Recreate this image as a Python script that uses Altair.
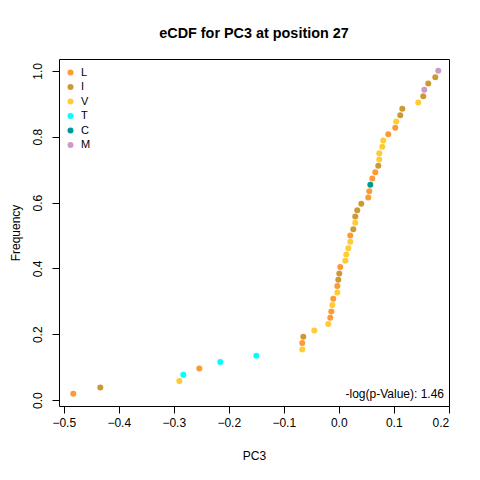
import altair as alt
import pandas as pd

# PC3 values (sorted) and residue at each point
pc3 = [-0.4827, -0.4336, -0.2900, -0.2827, -0.2536, -0.2155, -0.1500,
       -0.0664, -0.0664, -0.0645, -0.0445, -0.0191, -0.0155, -0.0136,
       -0.0118, -0.0100, -0.0027, -0.0027, -0.0009, 0.0009, 0.0027,
       0.0118, 0.0136, 0.0173, 0.0209, 0.0209, 0.0264, 0.0300, 0.0300,
       0.0336, 0.0409, 0.0536, 0.0555, 0.0573, 0.0609, 0.0664, 0.0718,
       0.0736, 0.0736, 0.0791, 0.0809, 0.0900, 0.1027, 0.1045, 0.1118,
       0.1155, 0.1445, 0.1536, 0.1555, 0.1627, 0.1755, 0.1809]
residue = ["L", "I", "V", "T", "L", "T", "T",
           "V", "L", "I", "V", "V", "L", "L",
           "V", "L", "V", "L", "I", "I", "L",
           "V", "V", "V", "V", "L", "I", "V", "I",
           "I", "I", "L", "L", "C", "L", "L", "I",
           "V", "V", "V", "V", "L", "L", "V", "I",
           "I", "V", "I", "M", "I", "I", "M"]

legend_order = ["L", "I", "V", "T", "C", "M"]
legend_colors = ["#FF9933", "#CC9933", "#FFCC33", "#00FFFF", "#009999", "#CC99CC"]

x_ticks = [-0.5, -0.4, -0.3, -0.2, -0.1, 0.0, 0.1, 0.2]
y_ticks = [0.0, 0.2, 0.4, 0.6, 0.8, 1.0]

pval_text = "-log(p-Value): 1.46"
title_text = "eCDF for PC3 at position 27"

n = len(pc3)
df = pd.DataFrame({
    "PC3": pc3,
    "Residue": residue,
    "Frequency": [(i + 1) / n for i in range(n)],
    "order": list(range(n)),
})

FONT = "Liberation Sans"
W, H = 390, 347

points = alt.Chart(df).mark_circle(size=36, opacity=1).encode(
    x=alt.X("PC3:Q",
            scale=alt.Scale(domain=[-0.5087, 0.2004], nice=False, zero=False),
            axis=alt.Axis(values=x_ticks, format=".1f", title="PC3",
                          labelPadding=4, titlePadding=22)),
    y=alt.Y("Frequency:Q",
            scale=alt.Scale(domain=[-0.018, 1.036], nice=False, zero=False),
            axis=alt.Axis(values=y_ticks, format=".1f", title="Frequency",
                          labelAngle=270, labelAlign="center",
                          labelBaseline="bottom", labelPadding=8,
                          titlePadding=9)),
    color=alt.Color("Residue:N",
                    scale=alt.Scale(domain=legend_order, range=legend_colors),
                    legend=alt.Legend(title=None, orient="none",
                                      legendX=6, legendY=8,
                                      symbolType="circle", symbolSize=36,
                                      symbolStrokeWidth=0,
                                      labelFontSize=11, labelFont=FONT,
                                      labelColor="black", rowPadding=2.5,
                                      labelOffset=5, padding=0)),
    order="order:Q",
)

ptext = alt.Chart(pd.DataFrame({"t": [pval_text]})).mark_text(
    align="right", baseline="alphabetic", fontSize=12, font=FONT, color="black"
).encode(x=alt.value(385), y=alt.value(339), text="t:N")

chart = alt.layer(points, ptext).properties(
    width=W, height=H,
    background="white",
    title=alt.TitleParams(title_text, fontSize=14.4, fontWeight="bold",
                          font=FONT, anchor="middle", offset=18, color="black"),
    autosize=alt.AutoSizeParams(type="none"),
    padding={"left": 51, "top": 51, "right": 20, "bottom": 60},
).configure_view(
    stroke="black", strokeWidth=1
).configure_axis(
    grid=False, domain=False, tickColor="black", tickSize=7, tickWidth=1,
    labelFont=FONT, labelFontSize=12, labelColor="black",
    titleFont=FONT, titleFontSize=12, titleFontWeight="normal", titleColor="black",
)

chart.save("out.html", embed_options={"renderer": "svg", "actions": False})
